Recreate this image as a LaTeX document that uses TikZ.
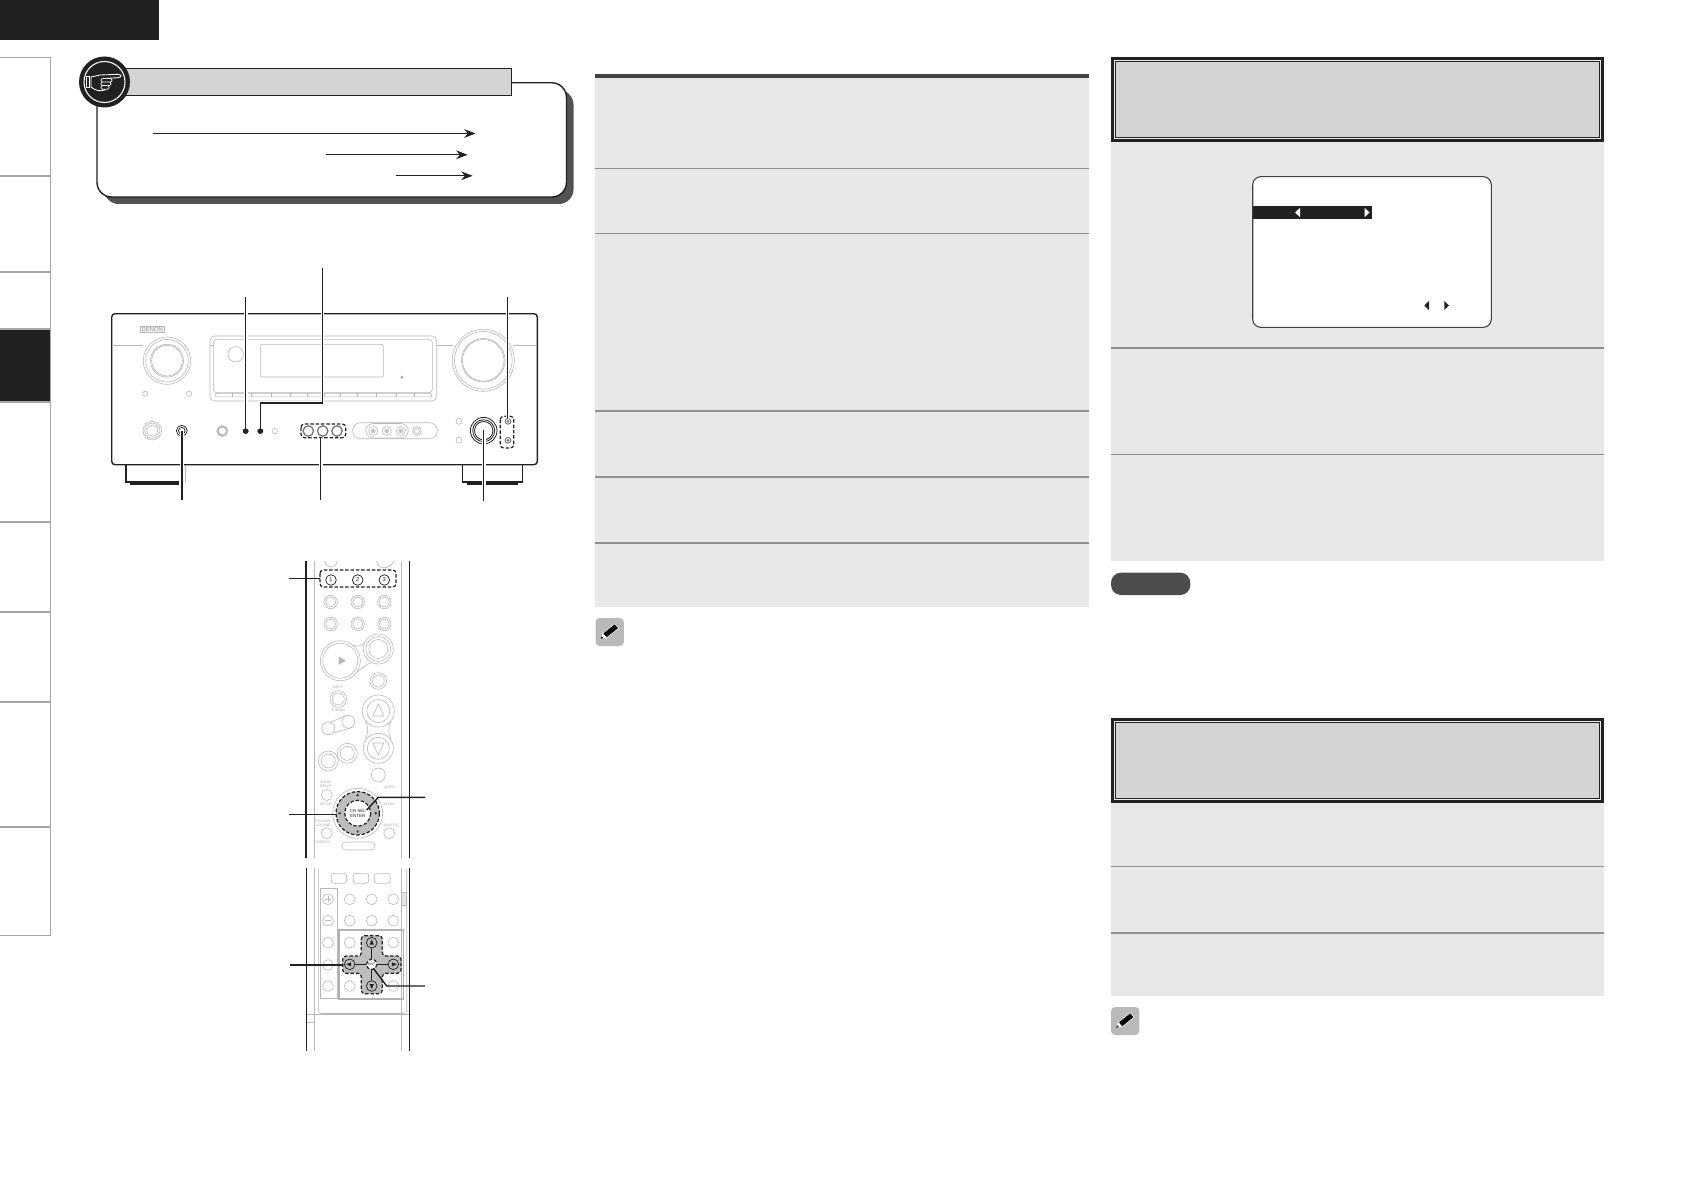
\documentclass[tikz,border=0pt]{standalone}
\usepackage{fontspec}
\setmainfont{Liberation Sans}
\usetikzlibrary{arrows.meta}
\definecolor{panelgray}{gray}{0.91}
\definecolor{headgray}{gray}{0.83}
\definecolor{rulegray}{gray}{0.56}
\definecolor{partgray}{gray}{0.72}
\definecolor{keygray}{gray}{0.45}
\definecolor{inkblack}{gray}{0.13}
\definecolor{dialgray}{gray}{0.74}
\tikzset{every picture/.style={line width=0.75pt},
  sideline/.style={draw=gray!70,line width=1pt},
  rowline/.style={draw=rulegray,line width=1.1pt},
  part/.style={draw=partgray,line width=0.45pt},
  keypart/.style={draw=keygray,line width=0.7pt},
  leader/.style={draw=inkblack,line width=1.05pt,preaction={draw=white,line width=2.8pt}},
  plainleader/.style={draw=inkblack,line width=1.05pt},
  groupline/.style={draw=inkblack,line width=0.9pt,dash pattern=on 2.6pt off 1.4pt,rounded corners=2.5pt},
  pointer/.style={draw=inkblack,line width=0.6pt,-{Stealth[length=8.5pt,width=6.5pt]}},
  case/.style={draw=inkblack,line width=1.05pt},
  tinytext/.style={text=gray!70,font=\fontsize{2.7}{2.9}\selectfont,inner sep=0pt,align=center}}

\begin{document}
\begin{tikzpicture}[x=0.75pt,y=0.75pt,yscale=-1,xscale=1]
\useasboundingbox (0,0) rectangle (1684,1191);

%Shape: Rectangle top bar
\fill [inkblack] (0,0) rectangle (159,40);
%Sidebar
\fill [inkblack] (0,329.5) rectangle (50.5,402);
\draw [sideline] (0,57.5) -- (50.5,57.5) -- (50.5,935.5) -- (0,935.5);
\foreach \sy in {176,272,329,402,522,612,702,827}
  \draw [sideline] (0,\sy) -- (50.5,\sy);

%Shape: callout box
\fill [fill=black!68,rounded corners=11pt] (104,90) rectangle (573.5,204);
\draw [draw=inkblack,fill=white,line width=1.05pt,rounded corners=11pt] (97,82.8) rectangle (566.5,197);
\draw [draw=inkblack,fill=headgray,line width=1.05pt] (110,68.8) rectangle (511.5,95.5);
%Shape: hand badge
\fill [inkblack] (104.5,82) circle (25.5);
\draw [white,line width=0.8pt] (104.5,82) circle (20.5);
\draw [white,line width=0.55pt] (86,76.5) rectangle (89.5,87);
\draw [white,line width=0.65pt,fill=inkblack] (91,77) -- (100,75) -- (118,74.3) .. controls (122,75) and (122,77) .. (118,77.7) -- (105,78.5) -- (105,90) .. controls (100,91.5) and (96,91) .. (91,87) -- cycle;
\draw [white,line width=0.55pt,fill=inkblack,rounded corners=1pt] (101,78.5) rectangle (112,82) (101,82) rectangle (111,85.5) (101,85.5) rectangle (109,89.3);

%Straight Lines
\coordinate (rowAstart) at (153,133.5);
\coordinate (rowAend) at (475.5,133.5);
\coordinate (rowBstart) at (326,154.8);
\coordinate (rowBend) at (467.5,154.8);
\coordinate (rowCstart) at (396,175.8);
\coordinate (rowCend) at (472.5,175.8);
\draw [pointer] (rowAstart) -- (rowAend);
\draw [pointer] (rowBstart) -- (rowBend);
\draw [pointer] (rowCstart) -- (rowCend);

%Receiver feet
\draw [draw=inkblack,line width=0.9pt] (126,465) -- (126,482) -- (131,482);
\draw [part] (185.3,465) -- (185.3,482);
\fill [inkblack] (130,481) rectangle (179,484.5);
\draw [draw=inkblack,line width=0.9pt] (462.7,465) -- (462.7,482) -- (522.7,482) -- (522.7,465);
\fill [inkblack] (466.7,481) rectangle (518,484.5);
%Receiver body
\draw [case,fill=white,rounded corners=2.5pt] (111.7,313.7) rectangle (537.3,464.7);
\draw [part] (112.5,345) -- (143,345) (210,345) -- (214,345) (437,345) -- (453,345) (513,345) -- (536.5,345);
%Logo
\node (logobadge) [draw=partgray,fill=gray!12,text=gray!75,line width=0.5pt,minimum width=18pt,minimum height=4.5pt,inner sep=0pt,font=\fontsize{4.4}{4.4}\selectfont] at (152.3,329.3) {DENON};
%Display
\draw [part,rounded corners=3.5pt] (210,336) rectangle (436.7,401);
\draw [part,rounded corners=2.5pt] (213.3,339.3) rectangle (432.3,392.7);
\draw [part,rounded corners=1pt] (215,393.3) rectangle (431.7,396.8);
\foreach \tx in {232.7,251,271.7,290.7,307.3,324,340.7,357.3,376,396.7,414.3}
  \draw [part] (\tx,393.3) -- (\tx,396.8);
\draw [part,rounded corners=1.5pt] (260.7,344.3) rectangle (383.3,377);
\draw [part] (235.7,354.3) circle (7.7);
\fill [gray!70] (402,377.3) circle (1.6);
%Knobs
\foreach \kx/\ky/\kr in {167/360.7/23.7,167/360.7/21.3,167/360.7/16.5,167/360.7/15.3,483.3/360.3/31,483.3/360.3/28.8,483.3/360.3/21.8,483.3/360.3/20.8,152.3/430.7/9.3,152.3/430.7/7.6,152.3/430.7/5.6,145.3/393.7/2.6,189/393.7/2.6,459/421.3/3,459/440.3/3,274.7/431/2.6,417/431/4.4,417/431/2.5}
  \draw [part] (\kx,\ky) circle (\kr);
\draw [draw=gray!60,line width=1pt] (222.3,431) circle (4.4);
\draw [part] (222.3,431) circle (5.6);
%Pill of small keys
\draw [part,rounded corners=5.8pt] (352.7,422.7) rectangle (437.3,438.7);
\draw [part,rounded corners=5.8pt] (365.7,423.5) rectangle (408.3,438);
\foreach \kx in {373.3,386.7,400.7} {
  \draw [part] (\kx,431) circle (4.5);
  \fill [gray!45] (\kx,431) circle (2.4);
}
%Dark keys
\draw [draw=inkblack,line width=0.55pt] (181.8,430.7) circle (5.4);
\draw [draw=inkblack,line width=0.55pt] (181.8,430.7) circle (3.3);
\foreach \kx in {245.7,260.3}
  \fill [inkblack!85] (\kx,431) circle (3);
\foreach \kx in {308.3,322.7,337}
  \draw [keypart,line width=0.95pt] (\kx,431) circle (5.2);
\foreach \kr in {13.3,11,9.2}
  \draw [draw=inkblack,line width=0.6pt] (483.7,430.7) circle (\kr);
\foreach \ky in {421.3,440.3} {
  \draw [keypart] (508,\ky) circle (2.9);
  \fill [keygray] (508,\ky) circle (1.5);
}
\draw [groupline] (301,424) rectangle (345.7,437.7);
\draw [groupline] (500.3,416.3) rectangle (513.7,448);

%Straight Lines receiver leaders
\coordinate (keyA) at (245.7,431);
\coordinate (keyAend) at (245.7,296.8);
\coordinate (keyB) at (260.3,431);
\coordinate (keyBbend) at (260.3,403);
\coordinate (keyBturn) at (322.5,403);
\coordinate (keyBend) at (322.5,268);
\coordinate (keyC) at (507.5,419);
\coordinate (keyCend) at (507.5,296.8);
\coordinate (jackD) at (182,431);
\coordinate (jackDend) at (182,499.6);
\coordinate (keysE) at (320.7,437.7);
\coordinate (keysEend) at (320.7,499.6);
\coordinate (knobF) at (483.7,430);
\coordinate (knobFend) at (483.7,501);
\draw [leader] (keyA) -- (keyAend);
\draw [leader] (keyB) -- (keyBbend) -- (keyBturn) -- (keyBend);
\draw [leader] (keyC) -- (keyCend);
\draw [leader] (jackD) -- (jackDend);
\draw [leader] (keysE) -- (keysEend);
\draw [leader] (knobF) -- (knobFend);
\fill [inkblack] (245.7,431) circle (2.6) (260.3,431) circle (2.6);

%Remote upper part
\draw [part] (314.3,561) -- (314.3,857.7) (401.3,561) -- (401.3,857.7);
\draw [case] (306,561) -- (306,857.7) (409.3,561) -- (409.3,857.7);
\draw [part] (325,561) .. controls (325,569) and (337,569) .. (337,561);
\draw [part] (376.5,561) .. controls (378,570) and (390,570) .. (394,561);
\foreach \kx/\ky/\kr in {330.7/602/6.7,330.7/602/5,357.7/602/6.7,357.7/602/5,384.3/602/6.7,384.3/602/5,330.7/624/6.7,330.7/624/5,357.7/624/6.7,357.7/624/5,384.3/624/6.7,384.3/624/5,340.3/660.7/20,340.3/660.7/17.5,378.3/649/15,378.3/649/12.5,378.3/649/9.5,378.3/681/8.3,378.3/681/6,338.3/699/8.3,338.3/699/6,328.3/728.3/6.5,348.3/721.7/6.5,328.3/761/10,328.3/761/7,347.3/753.3/10,347.3/753.3/7,378.3/711/16,378.3/748.3/15,378.3/711/11.5,378.3/748.3/11,378.3/775/7,326.7/795/5.5,326.7/833.3/5.5,389.3/833.3/5.5}
  \draw [part] (\kx,\ky) circle (\kr);
\draw [part] (352,645) .. controls (358,647) and (362,646) .. (366,641);
\draw [part] (356,673) .. controls (362,668) and (366,664) .. (372,662.5);
\draw [part] (365.5,721) .. controls (368.5,727) and (368.5,733) .. (365.5,739);
\draw [part] (391,721) .. controls (388,727) and (388,733) .. (391,739);
\draw [part] (331,722) -- (346,715.5) (334,733) -- (352,727.5);
\fill [gray!55] (338.5,656.5) -- (346,660.7) -- (338.5,664.9) -- cycle;
\draw [part] (372.8,716) -- (378.3,704) -- (383.8,716) -- cycle (372.8,743) -- (378.3,755) -- (383.8,743) -- cycle;
\draw [part,rounded corners=3pt] (341.7,842) -- (375,842) -- (375,850) -- (341.7,850) -- cycle;
%Small labels
\node (labelaudiodelay) [tinytext] at (326,784.5) {AUDIO\\DELAY};
\node (labelvideo) [tinytext] at (389.3,787.5) {VIDEO};
\node (labelsetup) [tinytext] at (326,804.5) {SETUP};
\node (labelaudio) [tinytext] at (389.3,804.5) {AUDIO};
\node (labeldynamic) [tinytext] at (323,823) {DYNAMIC\\VOLUME};
\node (labelmulteq) [tinytext] at (391,825.5) {MULTEQ};
\node (labeldisplay) [tinytext] at (323.5,842) {DISPLAY};
\node (labelshift) [tinytext] at (337.5,687.5) {SHIFT};
\node (labeltuning) [tinytext] at (338,710.5) {TUNING};
%Jog dial
\draw [part,fill=white] (357.7,813.3) circle (25);
\fill [dialgray] (357.7,813.3) circle (21.7);
\draw [groupline] (357.7,813.3) circle (21.7);
\draw [groupline,fill=white] (357.7,813.3) circle (13);
\node (dialtext) [tinytext,text=inkblack,font=\fontsize{3.4}{3.8}\selectfont] at (357.7,813.3) {CH SEL\\ENTER};
\fill [inkblack] (357.7,793.5) -- (359,796) -- (356.4,796) -- cycle (357.7,833) -- (359,830.5) -- (356.4,830.5) -- cycle (338,813.3) -- (340.5,812) -- (340.5,814.6) -- cycle (377.4,813.3) -- (374.9,812) -- (374.9,814.6) -- cycle;
%Source keys
\foreach \kx/\klabel in {331/1,357.7/2,384.3/3} {
  \draw [draw=inkblack,line width=0.55pt] (\kx,580) circle (5.3);
  \node (source\klabel) [tinytext,text=inkblack,font=\fontsize{4.2}{4.2}\selectfont] at (\kx,580) {\klabel};
}
\draw [groupline] (320,570) rectangle (396,587);
%Straight Lines
\coordinate (sourceleft) at (289.3,578.7);
\coordinate (sourcekeys) at (320,578.7);
\coordinate (dialleft) at (289.3,814.7);
\coordinate (dialring) at (335.5,814.7);
\coordinate (dialright) at (425,797.3);
\coordinate (dialturn) at (378.3,797.3);
\coordinate (dialcentre) at (366.7,810);
\draw [plainleader] (sourceleft) -- (sourcekeys);
\draw [plainleader] (dialleft) -- (dialring);
\draw [plainleader] (dialright) -- (dialturn) -- (dialcentre);

%Remote lower part
\draw [part] (314.3,868.3) -- (314.3,1051) (401.3,868.3) -- (401.3,1051);
\draw [part,rounded corners=2pt] (318.3,868.3) -- (318.3,1013.5) -- (406.7,1013.5) -- (406.7,868.3);
\draw [part] (306.7,1014.3) -- (409.3,1014.3);
\draw [part] (306.7,1022.7) -- (314.3,1022.7) -- (314.3,1014.3);
\draw [case] (306.7,868.3) -- (306.7,1051) (409.3,868.3) -- (409.3,1051);
\draw [part,rounded corners=2pt] (331.3,873.3) rectangle (346.7,883.3);
\draw [part,rounded corners=2pt] (353.3,873.3) rectangle (368.7,883.3);
\draw [part,rounded corners=2pt] (374.3,873.3) rectangle (390.3,883.3);
\draw [part] (320.7,888.3) -- (337.7,888.3) -- (337.7,998.3) -- (320.7,998.3) -- cycle;
\draw [draw=gray!55,fill=gray!20,line width=0.4pt] (401.3,892.7) rectangle (406,905);
\foreach \kx/\ky in {349.7/899.3,371.7/899.3,393.3/899.3,349.7/920.7,371.7/920.7,393.3/920.7,328/899.3,328/920.7,328/942.7,328/965,328/986}
  \draw [part] (\kx,\ky) circle (5.4);
\draw [part] (325,899.3) -- (331,899.3) (328,896.3) -- (328,902.3) (325,920.7) -- (331,920.7);
\draw [draw=gray!60,line width=0.8pt] (339,930) rectangle (403.3,999);
\foreach \kx/\ky in {349.7/942.7,393.3/942.7,349.7/986,393.3/986}
  \draw [part] (\kx,\ky) circle (5.4);
%Cursor cross
\draw [groupline,fill=dialgray] (361.3,935.7) -- (382.3,935.7) -- (382.3,956) -- (401,956) -- (401,973.3) -- (382.3,973.3) -- (382.3,993.7) -- (361.3,993.7) -- (361.3,973.3) -- (342.7,973.3) -- (342.7,956) -- (361.3,956) -- cycle;
\draw [draw=inkblack,line width=0.4pt] (371.7,942.7) -- (371.7,986) (349.7,964.3) -- (393.3,964.3);
\foreach \kx/\ky in {371.7/942.7,371.7/986,349.7/964.3,393.3/964.3}
  \draw [draw=inkblack,fill=dialgray,line width=0.55pt] (\kx,\ky) circle (5.3);
\fill [inkblack] (371.7,939.5) -- (373.8,944.5) -- (369.6,944.5) -- cycle (371.7,989.2) -- (373.8,984.2) -- (369.6,984.2) -- cycle (396.8,964.3) -- (391.8,962.2) -- (391.8,966.4) -- cycle (346.2,964.3) -- (351.2,962.2) -- (351.2,966.4) -- cycle;
\draw [groupline,fill=white] (371.7,964.3) circle (5.3);
\node (cursorenter) [tinytext,text=inkblack] at (371.7,964.3) {ENT};
%Straight Lines
\coordinate (cursorleft) at (290,965);
\coordinate (cursorkey) at (343,965);
\coordinate (cursorright) at (425,986);
\coordinate (cursorturn) at (386.7,986);
\coordinate (cursorcentre) at (373.3,968.3);
\draw [plainleader] (cursorleft) -- (cursorkey);
\draw [plainleader] (cursorright) -- (cursorturn) -- (cursorcentre);

%Shape: middle column panel
\fill [panelgray] (595,78) rectangle (1089,606.5);
\fill [inkblack!85] (595,74.2) rectangle (1089,78);
\foreach \ry in {168.7,233.7,411,476.8,543}
  \draw [rowline] (595,\ry) -- (1089,\ry);

%Shape: right column panels
\fill [panelgray] (1111,141.7) rectangle (1604,560.7);
\fill [panelgray] (1111,802.7) rectangle (1604,995.7);
\foreach \ry in {347.8,454.3,866.7,933}
  \draw [rowline] (1111,\ry) -- (1604,\ry);
%Headers
\foreach \hy/\hb in {57.3/141.7,718.3/802.7} {
  \fill [inkblack] (1111,\hy) rectangle (1604,\hb);
  \fill [gray!15] (1113.7,\hy+2.7) rectangle (1601.3,\hb-2.7);
  \draw [draw=inkblack,fill=headgray,line width=0.45pt] (1115.6,\hy+4.4) rectangle (1599.4,\hb-4.4);
}

%Shape: screen
\draw [draw=black!75,fill=white,line width=0.8pt,rounded corners=6pt] (1252.7,176.7) rectangle (1491.3,327.3);
\fill [inkblack] (1252.7,206) rectangle (1372,219);
\fill [white] (1295,212.5) -- (1300,208) -- (1300,217) -- cycle;
\fill [white] (1369.5,212.5) -- (1364.7,208) -- (1364.7,217) -- cycle;
\fill [inkblack] (1424.3,305.5) -- (1429,301) -- (1429,310) -- cycle;
\fill [inkblack] (1449,305.5) -- (1444.3,301) -- (1444.3,310) -- cycle;

%Shape: note pill
\fill [black!70,rounded corners=7.5pt] (1111,572.7) rectangle (1190.3,595);

%Shape: pencil icons
\foreach \px/\py in {595.5/618,1111/1007} {
  \begin{scope}[shift={(\px,\py)}]
    \fill [gray!55!white,rounded corners=3pt] (0,0) rectangle (28.3,28);
    \draw [draw=white,fill=black,line width=0.45pt] (11,19.9) -- (7.2,15.3) -- (19.3,5.7) -- (23.1,10.3) -- cycle;
    \fill [white] (5.2,20.7) -- (7.2,15.3) -- (11,19.9) -- cycle;
    \fill [black] (5.2,20.7) -- (6.1,18.3) -- (7.9,20.2) -- cycle;
  \end{scope}
}
\end{tikzpicture}
\end{document}
